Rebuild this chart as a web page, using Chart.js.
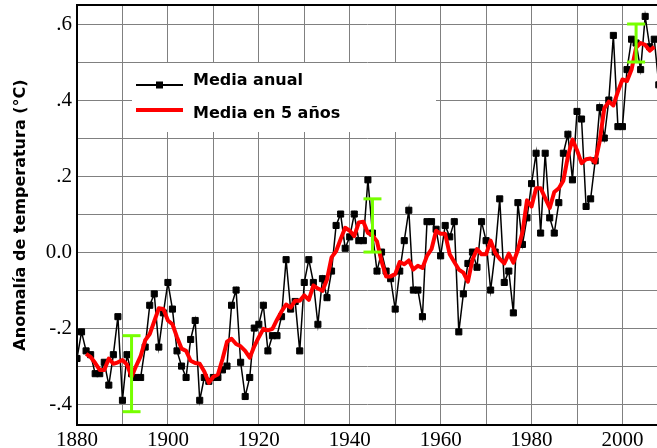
<!DOCTYPE html>
<html lang="es">
<head>
<meta charset="UTF-8">
<title>Anomalía de temperatura</title>
<script src="https://cdn.jsdelivr.net/npm/chart.js@4.4.0/dist/chart.umd.min.js"></script>
<style>
  html, body { margin: 0; padding: 0; background: #fff; }
  #wrap { width: 657px; height: 448px; }
</style>
</head>
<body>
<div id="wrap"><canvas id="chart"></canvas></div>
<script>
// Annual mean anomaly (black squares)
const annualYears = [
  1880, 1881, 1882, 1883, 1884, 1885, 1886, 1887, 1888, 1889,
  1890, 1891, 1892, 1893, 1894, 1895, 1896, 1897, 1898, 1899,
  1900, 1901, 1902, 1903, 1904, 1905, 1906, 1907, 1908, 1909,
  1910, 1911, 1912, 1913, 1914, 1915, 1916, 1917, 1918, 1919,
  1920, 1921, 1922, 1923, 1924, 1925, 1926, 1927, 1928, 1929,
  1930, 1931, 1932, 1933, 1934, 1935, 1936, 1937, 1938, 1939,
  1940, 1941, 1942, 1943, 1944, 1945, 1946, 1947, 1948, 1949,
  1950, 1951, 1952, 1953, 1954, 1955, 1956, 1957, 1958, 1959,
  1960, 1961, 1962, 1963, 1964, 1965, 1966, 1967, 1968, 1969,
  1970, 1971, 1972, 1973, 1974, 1975, 1976, 1977, 1978, 1979,
  1980, 1981, 1982, 1983, 1984, 1985, 1986, 1987, 1988, 1989,
  1990, 1991, 1992, 1993, 1994, 1995, 1996, 1997, 1998, 1999,
  2000, 2001, 2002, 2003, 2004, 2005, 2006, 2007, 2008
];
const annualValues = [
  -0.28, -0.21, -0.26, -0.27, -0.32, -0.32, -0.29, -0.35, -0.27, -0.17,
  -0.39, -0.27, -0.32, -0.33, -0.33, -0.25, -0.14, -0.11, -0.25, -0.16,
  -0.08, -0.15, -0.26, -0.30, -0.33, -0.23, -0.18, -0.39, -0.33, -0.34,
  -0.33, -0.33, -0.31, -0.30, -0.14, -0.10, -0.29, -0.38, -0.33, -0.20,
  -0.19, -0.14, -0.26, -0.22, -0.22, -0.17, -0.02, -0.15, -0.13, -0.26,
  -0.08, -0.02, -0.08, -0.19, -0.07, -0.12, -0.05, 0.07, 0.10, 0.01,
  0.04, 0.10, 0.03, 0.03, 0.19, 0.05, -0.05, 0.00, -0.05, -0.07,
  -0.15, -0.05, 0.03, 0.11, -0.10, -0.10, -0.17, 0.08, 0.08, 0.06,
  -0.01, 0.07, 0.04, 0.08, -0.21, -0.11, -0.03, 0.00, -0.04, 0.08,
  0.03, -0.10, 0.00, 0.14, -0.08, -0.05, -0.16, 0.13, 0.02, 0.09,
  0.18, 0.26, 0.05, 0.26, 0.09, 0.05, 0.13, 0.26, 0.31, 0.19,
  0.37, 0.35, 0.12, 0.14, 0.24, 0.38, 0.30, 0.40, 0.57, 0.33,
  0.33, 0.48, 0.56, 0.55, 0.48, 0.62, 0.54, 0.56, 0.44
];

// 5-year mean (red line)
const meanYears = [
  1882, 1883, 1884, 1885, 1886, 1887, 1888, 1889,
  1890, 1891, 1892, 1893, 1894, 1895, 1896, 1897, 1898, 1899,
  1900, 1901, 1902, 1903, 1904, 1905, 1906, 1907, 1908, 1909,
  1910, 1911, 1912, 1913, 1914, 1915, 1916, 1917, 1918, 1919,
  1920, 1921, 1922, 1923, 1924, 1925, 1926, 1927, 1928, 1929,
  1930, 1931, 1932, 1933, 1934, 1935, 1936, 1937, 1938, 1939,
  1940, 1941, 1942, 1943, 1944, 1945, 1946, 1947, 1948, 1949,
  1950, 1951, 1952, 1953, 1954, 1955, 1956, 1957, 1958, 1959,
  1960, 1961, 1962, 1963, 1964, 1965, 1966, 1967, 1968, 1969,
  1970, 1971, 1972, 1973, 1974, 1975, 1976, 1977, 1978, 1979,
  1980, 1981, 1982, 1983, 1984, 1985, 1986, 1987, 1988, 1989,
  1990, 1991, 1992, 1993, 1994, 1995, 1996, 1997, 1998, 1999,
  2000, 2001, 2002, 2003, 2004, 2005, 2006, 2007
];
const meanValues = [
  -0.268, -0.276, -0.292, -0.310, -0.310, -0.280, -0.294, -0.290,
  -0.284, -0.296, -0.328, -0.300, -0.274, -0.232, -0.216, -0.182, -0.148, -0.150,
  -0.180, -0.190, -0.224, -0.254, -0.260, -0.286, -0.292, -0.294, -0.314, -0.344,
  -0.328, -0.322, -0.282, -0.236, -0.228, -0.242, -0.248, -0.260, -0.278, -0.248,
  -0.224, -0.202, -0.206, -0.202, -0.178, -0.156, -0.138, -0.146, -0.128, -0.128,
  -0.114, -0.126, -0.088, -0.096, -0.102, -0.072, -0.014, 0.002, 0.034, 0.064,
  0.056, 0.042, 0.078, 0.080, 0.050, 0.044, 0.028, -0.024, -0.064, -0.064,
  -0.058, -0.026, -0.032, -0.022, -0.046, -0.036, -0.042, -0.010, 0.008, 0.056,
  0.048, 0.048, -0.006, -0.026, -0.046, -0.054, -0.078, -0.020, 0.008, -0.006,
  -0.006, 0.030, -0.002, -0.018, -0.030, -0.004, -0.028, 0.006, 0.052, 0.136,
  0.120, 0.168, 0.168, 0.142, 0.116, 0.158, 0.168, 0.188, 0.252, 0.296,
  0.268, 0.234, 0.244, 0.246, 0.236, 0.292, 0.378, 0.396, 0.386, 0.422,
  0.454, 0.450, 0.480, 0.538, 0.550, 0.545, 0.530, 0.540
];

// Uncertainty bars (green)
const errorYears = [1892, 1945, 2003];
const errorLow = [-0.42, 0.00, 0.50];
const errorHigh = [-0.22, 0.14, 0.60];

// Tick labels
const xTickLabels = [1880, 1900, 1920, 1940, 1960, 1980, 2000];
const yTickValues = [-0.4, -0.2, 0.0, 0.2, 0.4, 0.6];
const yTickText = ['-.4', '-.2', '0.0', '.2', '.4', '.6'];

const legendLabels = ['Media anual', 'Media en 5 años'];

const annualPoints = annualYears.map((yr, i) => ({ x: yr, y: annualValues[i] }));
const meanPoints = meanYears.map((yr, i) => ({ x: yr, y: meanValues[i] }));
const errorPoints = [];
errorYears.forEach((yr, i) => {
  errorPoints.push({ x: yr, y: errorLow[i] }, { x: yr, y: errorHigh[i] }, { x: yr, y: null });
});

// White legend box inside the plot, plus the top frame line
const legendBox = {
  id: 'legendBox',
  beforeDatasetsDraw(chart) {
    const { ctx, chartArea } = chart;
    ctx.save();
    ctx.fillStyle = '#fff';
    ctx.fillRect(chartArea.left + 55, chartArea.top + 58, 304, 69);

    const items = [chart.data.datasets[0], chart.data.datasets[1]];
    const rows = [chartArea.top + 80, chartArea.top + 105];
    const textRows = [chartArea.top + 76, chartArea.top + 109];
    items.forEach((ds, i) => {
      const x0 = chartArea.left + 59, x1 = chartArea.left + 106, y = rows[i];
      ctx.strokeStyle = ds.borderColor;
      ctx.lineWidth = i === 0 ? 2 : 4;
      ctx.beginPath();
      ctx.moveTo(x0, y);
      ctx.lineTo(x1, y);
      ctx.stroke();
      if (ds.pointRadius > 0) {
        ctx.fillStyle = ds.pointBackgroundColor;
        ctx.fillRect((x0 + x1) / 2 - 3.5, y - 3.5, 7, 7);
      }
      ctx.fillStyle = '#000';
      ctx.font = 'bold 16px "DejaVu Sans"';
      ctx.textBaseline = 'middle';
      ctx.textAlign = 'left';
      ctx.fillText(legendLabels[i], chartArea.left + 116, textRows[i]);
    });

    ctx.strokeStyle = '#000';
    ctx.lineWidth = 2;
    ctx.beginPath();
    ctx.moveTo(chartArea.left, chartArea.top);
    ctx.lineTo(chartArea.right, chartArea.top);
    ctx.stroke();
    ctx.restore();
  }
};

new Chart(document.getElementById('chart'), {
  type: 'line',
  data: {
    datasets: [
      {
        label: legendLabels[0],
        data: annualPoints,
        borderColor: '#000',
        borderWidth: 1.5,
        pointStyle: 'rect',
        pointRadius: 4.3,
        pointBackgroundColor: '#000',
        pointBorderColor: '#000',
        pointBorderWidth: 1,
        order: 3
      },
      {
        label: legendLabels[1],
        data: meanPoints,
        borderColor: '#ff0000',
        borderWidth: 4,
        borderJoinStyle: 'round',
        pointRadius: 0,
        order: 2
      },
      {
        label: 'error',
        data: errorPoints,
        borderColor: '#77ff00',
        borderWidth: 3,
        pointStyle: 'line',
        pointRadius: 9,
        pointBorderColor: '#77ff00',
        pointBorderWidth: 3,
        spanGaps: false,
        order: 1
      }
    ]
  },
  options: {
    responsive: true,
    maintainAspectRatio: false,
    animation: false,
    events: [],
    layout: { autoPadding: false, padding: { top: 5, left: 0, right: 0, bottom: 0 } },
    plugins: {
      legend: { display: false },
      tooltip: { enabled: false }
    },
    scales: {
      x: {
        type: 'linear',
        min: 1880,
        max: 2007.6,
        ticks: {
          stepSize: 10,
          includeBounds: false,
          autoSkip: false,
          maxRotation: 0,
          padding: 3,
          color: '#000',
          font: { family: 'Liberation Serif', size: 21 },
          callback: v => xTickLabels.includes(v) ? String(v) : ''
        },
        grid: { color: '#808080', lineWidth: 1, drawTicks: false },
        border: { color: '#000', width: 2 },
        afterFit: s => {
          s.height = 23;
          s.paddingLeft = 0; s.paddingRight = 0;
        }
      },
      y: {
        min: -0.455,
        max: 0.65,
        ticks: {
          stepSize: 0.1,
          includeBounds: false,
          autoSkip: false,
          padding: 5,
          color: '#000',
          font: { family: 'Liberation Serif', size: 21 },
          callback: v => {
            const i = yTickValues.findIndex(t => Math.abs(t - v) < 1e-6);
            return i >= 0 ? yTickText[i] : '';
          }
        },
        grid: { color: '#808080', lineWidth: 1, drawTicks: false },
        border: { color: '#000', width: 2 },
        title: {
          display: true,
          text: 'Anomalía de temperatura (°C)',
          color: '#000',
          font: { family: 'DejaVu Sans', size: 16, weight: 'bold' },
          padding: { top: 11, bottom: 0 }
        },
        afterFit: s => {
          s.width = 77;
          s.paddingTop = 0; s.paddingBottom = 0;
        }
      }
    }
  },
  plugins: [legendBox]
});
</script>
</body>
</html>
